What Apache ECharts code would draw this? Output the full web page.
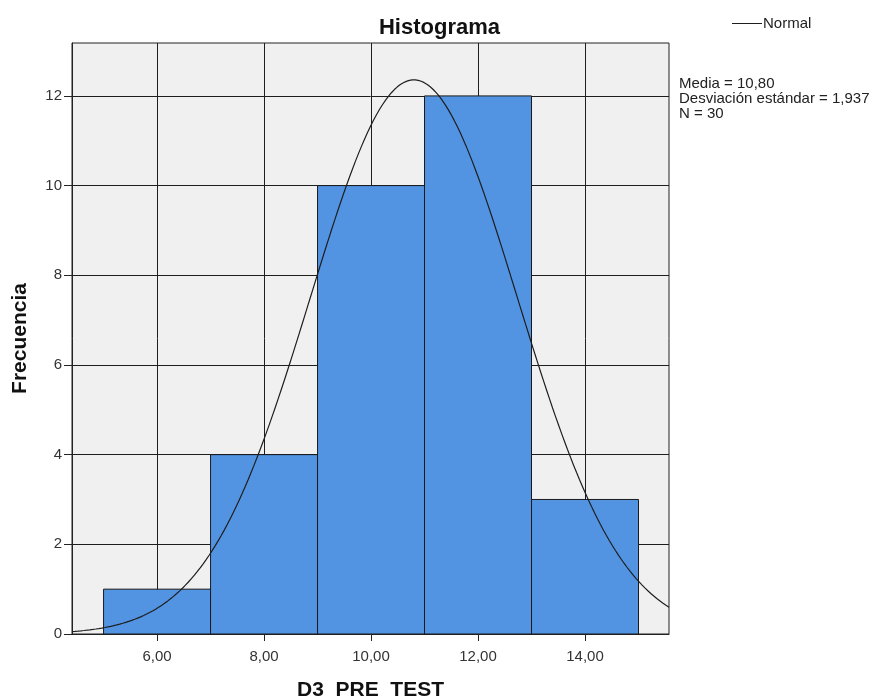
<!DOCTYPE html>
<html>
<head>
<meta charset="utf-8">
<script src="https://cdn.jsdelivr.net/npm/echarts@6/dist/echarts.min.js"></script>
<style>
  html, body { margin: 0; padding: 0; background: #fff; }
  #chart { width: 879px; height: 696px; }
</style>
</head>
<body>
<div id="chart"></div>
<script>
// Histogram bins (lower edge) and frequencies
const binStarts = [5, 7, 9, 11, 13];
const binWidth = 2;
const counts = [1, 4, 10, 12, 3];

// Axis ticks
const xTicks = [6, 8, 10, 12, 14];
const yTicks = [0, 2, 4, 6, 8, 10, 12];

// Summary statistics shown beside the plot
const mean = 10.80;
const stdDev = 1.937;
const n = 30;

const xMin = 4.41, xMax = 15.57;
const yMax = 13.18;

// Normal curve scaled to frequency (N * bin width * density)
const curve = [];
for (let i = 0; i <= 200; i++) {
  const x = xMin + (xMax - xMin) * i / 200;
  const z = (x - mean) / stdDev;
  const y = n * binWidth * Math.exp(-0.5 * z * z) / (stdDev * Math.sqrt(2 * Math.PI));
  curve.push([x, y]);
}

const fmt = v => v.toFixed(2).replace('.', ',');
const font = 'Liberation Sans, Arial, sans-serif';
const gridColor = '#1e1e1e';

const chart = echarts.init(document.getElementById('chart'), null, { renderer: 'canvas' });
chart.setOption({
  animation: false,
  backgroundColor: '#ffffff',
  textStyle: { fontFamily: font },
  title: {
    text: 'Histograma',
    left: 'center',
    top: 12,
    textStyle: { fontFamily: font, fontSize: 22, fontWeight: 'bold', color: '#111' }
  },
  legend: {
    data: [{ name: 'Normal', icon: 'rect' }],
    left: 727,
    top: 11,
    itemWidth: 30,
    itemHeight: 1,
    itemGap: 2,
    textStyle: { fontFamily: font, fontSize: 15, color: '#222', padding: [0, 0, 0, -4] }
  },
  grid: {
    left: 72, right: 210, top: 43, bottom: 62,
    outerBoundsMode: 'none',
    containLabel: false,
    show: true,
    backgroundColor: '#f0f0f0',
    borderColor: '#222',
    borderWidth: 1
  },
  xAxis: {
    type: 'value',
    min: xMin, max: xMax,
    name: 'D3  PRE  TEST',
    nameLocation: 'middle',
    nameGap: 46,
    nameTextStyle: { fontFamily: font, fontSize: 21, fontWeight: 'bold', color: '#111' },
    axisLine: { show: true, lineStyle: { color: '#222' } },
    axisTick: { show: true, length: 7, customValues: xTicks, lineStyle: { color: '#222' } },
    axisLabel: { customValues: xTicks, formatter: fmt, fontSize: 15, color: '#333', margin: 15 },
    splitLine: { show: false }
  },
  yAxis: {
    type: 'value',
    min: 0, max: yMax,
    name: 'Frecuencia',
    nameLocation: 'middle',
    nameGap: 41,
    nameTextStyle: { fontFamily: font, fontSize: 21, fontWeight: 'bold', color: '#111' },
    axisLine: { show: true, lineStyle: { color: '#222' } },
    axisTick: { show: true, length: 8, customValues: yTicks, lineStyle: { color: '#222' } },
    axisLabel: { customValues: yTicks, fontSize: 15, color: '#333', margin: 10 },
    splitLine: { show: false }
  },
  graphic: [{
    type: 'text',
    left: 679,
    top: 76,
    style: {
      text: 'Media = ' + fmt(mean) + '\nDesviación estándar = ' + String(stdDev).replace('.', ',') + '\nN = ' + n,
      font: '15px ' + font,
      fill: '#222',
      lineHeight: 15
    }
  }],
  series: [
    {
      // reference grid lines at the labelled ticks
      type: 'line',
      data: [],
      silent: true,
      z: 1,
      markLine: {
        z: 1,
        silent: true,
        symbol: 'none',
        animation: false,
        label: { show: false },
        lineStyle: { color: gridColor, width: 1, type: 'solid' },
        data: xTicks.map(v => ({ xAxis: v })).concat(yTicks.filter(v => v > 0).map(v => ({ yAxis: v })))
      }
    },
    {
      type: 'custom',
      name: 'Frecuencia',
      z: 3,
      data: binStarts.map((s, i) => [s, s + binWidth, counts[i]]),
      renderItem: (params, api) => {
        const p0 = api.coord([api.value(0), 0]);
        const p1 = api.coord([api.value(1), api.value(2)]);
        return {
          type: 'rect',
          shape: { x: p0[0], y: p1[1], width: p1[0] - p0[0], height: p0[1] - p1[1] },
          style: { fill: '#5294e2', stroke: '#1a1a1a', lineWidth: 1 }
        };
      }
    },
    {
      type: 'line',
      name: 'Normal',
      z: 5,
      data: curve,
      symbol: 'none',
      smooth: false,
      clip: true,
      lineStyle: { color: '#1e1e1e', width: 1.2 },
      itemStyle: { color: '#1e1e1e' }
    }
  ]
});
</script>
</body>
</html>
